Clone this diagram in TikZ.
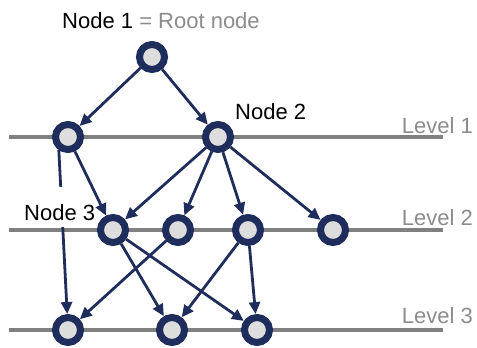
\documentclass[tikz,border=0pt]{standalone}
\usepackage{fontspec}
\setmainfont{Liberation Sans}
\usetikzlibrary{arrows.meta}
\definecolor{navy}{HTML}{1E2D5C}
\definecolor{ringfill}{HTML}{DDDDDD}
\definecolor{lvlgray}{HTML}{808080}
\definecolor{txtgray}{HTML}{8C8C8C}
\pgfdeclarelayer{lines}
\pgfdeclarelayer{edges}
\pgfsetlayers{lines,edges,main}
\tikzset{
  vert/.style={circle, draw=navy, line width=7bp, fill=ringfill, minimum size=25bp, inner sep=0pt, outer sep=3.5bp},
  conn/.style={draw=navy, line width=2.8bp, -{Triangle[length=12bp,width=11bp]}},
  lvlline/.style={draw=lvlgray, line width=3.5bp},
  lbl/.style={font=\fontsize{22bp}{26bp}\selectfont, inner sep=0pt},
  lvllbl/.style={lbl, text=txtgray, anchor=base east}
}
\begin{document}
\begin{tikzpicture}[x=1bp,y=-1bp]
\useasboundingbox (0,0) rectangle (477,347);
% vertices
\node[vert] (r) at (152,57) {};
\node[vert] (a1) at (68,137) {};
\node[vert] (a2) at (218,137) {};
\node[vert] (b1) at (113,230) {};
\node[vert] (b2) at (178,230) {};
\node[vert] (b3) at (248,230) {};
\node[vert] (b4) at (333,230) {};
\node[vert] (c1) at (68,330) {};
\node[vert] (c2) at (172,330) {};
\node[vert] (c3) at (257,330) {};
% level lines and the long edge behind the Node 3 label
\begin{pgfonlayer}{lines}
\coordinate (l1s) at (9,137); \coordinate (l1e) at (443,137);
\coordinate (l2s) at (9,230); \coordinate (l2e) at (443,230);
\coordinate (l3s) at (9,330); \coordinate (l3e) at (443,330);
\draw[lvlline] (l1s) -- (l1e);
\draw[lvlline] (l2s) -- (l2e);
\draw[lvlline] (l3s) -- (l3e);
\draw[conn] (a1.235) -- (c1);
\node[lbl, anchor=base west, fill=white, inner xsep=1bp, text height=33bp, text depth=7bp] (n3) at (23,220) {Node 3};
\end{pgfonlayer}
% edges
\begin{pgfonlayer}{edges}
\draw[conn] (r) -- (a1);
\draw[conn] (r) -- (a2);
\draw[conn] (a1) -- (b1);
\draw[conn] (a2) -- (b1);
\draw[conn] (a2) -- (b2);
\draw[conn] (a2) -- (b3);
\draw[conn] (a2) -- (b4);
\draw[conn] (b1) -- (c2);
\draw[conn] (b1) -- (c3);
\draw[conn] (b2) -- (c1);
\draw[conn] (b3) -- (c2);
\draw[conn] (b3) -- (c3);
\end{pgfonlayer}
% labels
\node[lvllbl] (lv1) at (473,133) {Level 1};
\node[lvllbl] (lv2) at (473,225) {Level 2};
\node[lvllbl] (lv3) at (473,323) {Level 3};
\node[lbl, anchor=base west] (n1) at (62,28) {Node 1 \textcolor{txtgray}{= Root node}};
\node[lbl, anchor=base west] (n2) at (235,119) {Node 2};
\end{tikzpicture}
\end{document}
